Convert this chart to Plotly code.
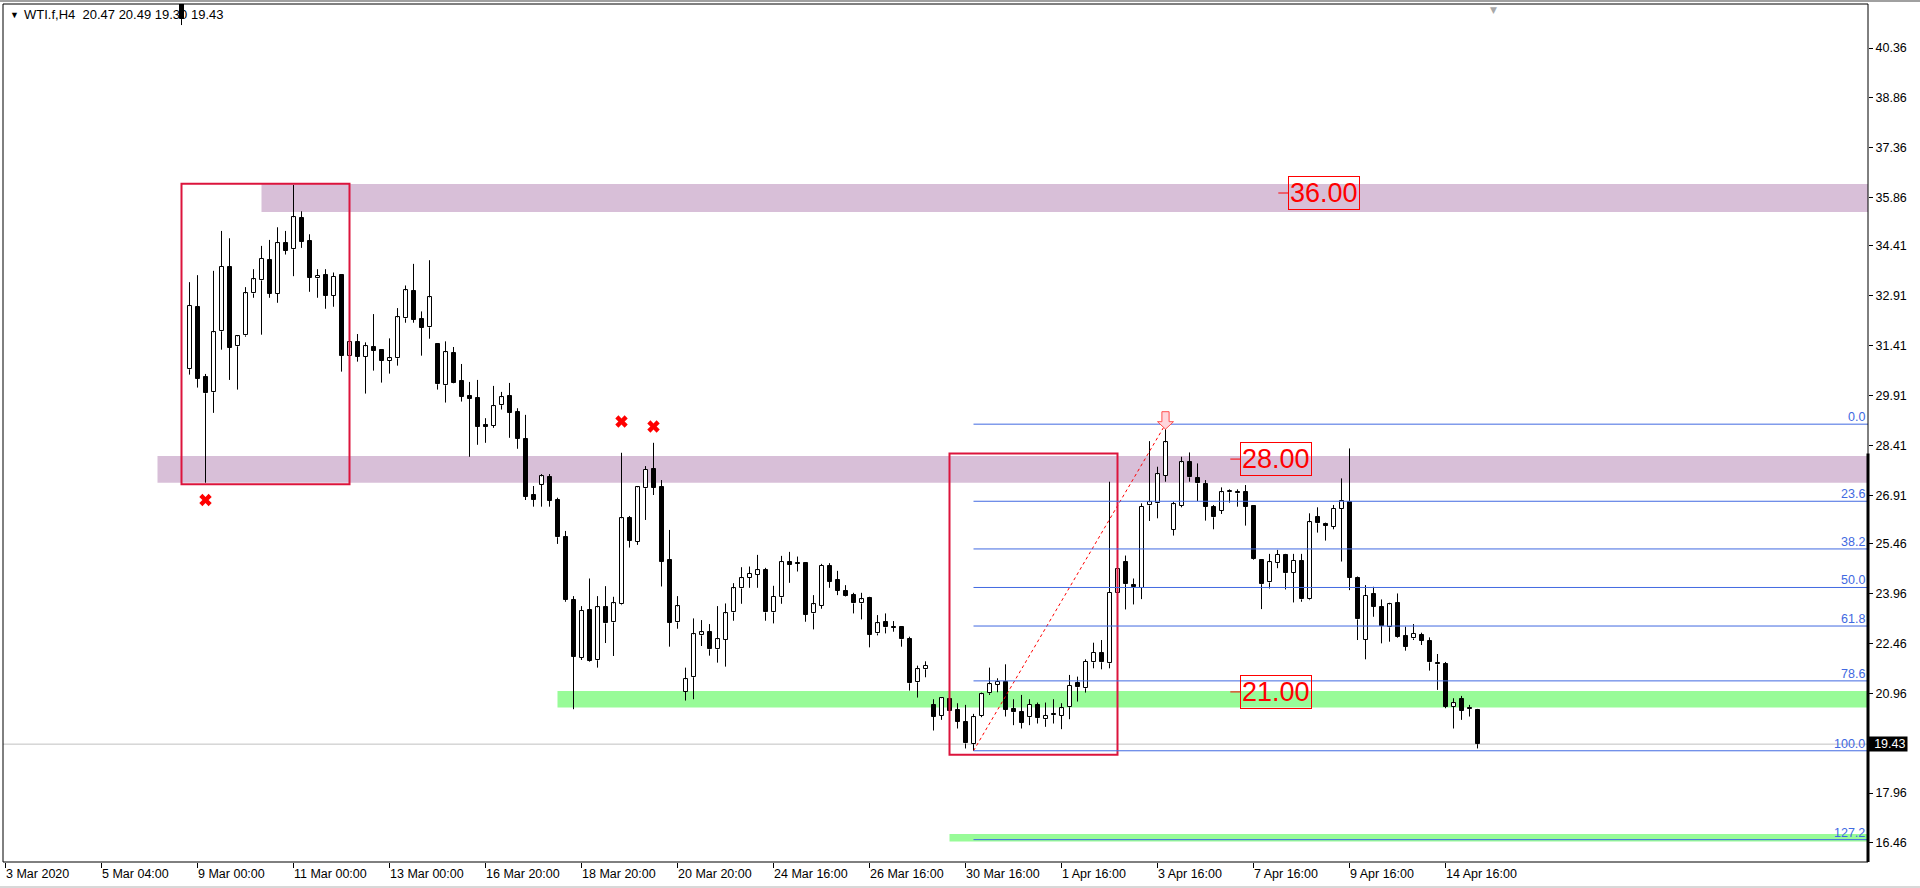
import plotly.graph_objects as go

# ---------------- data ----------------
bar_index = list(range(22, 185))
opens = [41.90, 30.70, 32.57, 30.46, 30.01, 31.84, 33.79, 31.39, 31.72, 32.98,
         33.37, 34.00, 32.97, 34.49, 34.31, 35.24, 34.56, 33.43, 33.55, 32.91,
         33.53, 31.11, 31.51, 31.08, 31.37, 31.27, 30.96, 31.03, 32.23, 33.04,
         32.20, 31.96, 31.46, 30.22, 31.19, 30.35, 29.90, 29.84, 29.02, 29.00,
         29.62, 29.89, 29.43, 28.59, 26.92, 27.23, 27.45, 26.77, 25.66, 23.76,
         22.03, 23.46, 21.95, 23.55, 23.09, 23.63, 26.23, 25.52, 27.12, 27.69,
         27.16, 24.97, 23.09, 21.01, 21.44, 22.70, 22.79, 22.28, 22.56, 23.39,
         24.11, 24.44, 24.53, 24.67, 23.39, 23.84, 24.91, 24.88, 24.88, 23.36,
         23.59, 24.79, 24.37, 24.03, 23.90, 23.66, 23.82, 22.76, 23.10, 22.93,
         22.94, 22.58, 21.29, 21.68, 20.61, 20.28, 20.78, 20.46, 20.11, 19.43,
         20.28, 20.96, 21.21, 21.29, 20.48, 20.41, 20.24, 20.61, 20.18, 20.30,
         20.28, 20.54, 21.26, 21.11, 21.89, 22.18, 21.86, 23.96, 24.90, 24.21,
         24.13, 26.61, 26.67, 27.50, 25.87, 26.60, 27.90, 27.42, 27.25, 26.55,
         26.44, 27.00, 27.02, 27.02, 26.59, 24.98, 24.29, 24.87, 25.12, 24.59,
         24.94, 23.78, 26.25, 26.05, 25.97, 26.50, 26.72, 24.42, 22.56, 23.93,
         23.56, 22.94, 23.66, 22.68, 22.61, 22.71, 22.53, 21.88, 21.84, 20.56,
         20.79, 20.49, 20.47]
highs = [42.10, 33.32, 33.53, 30.56, 33.66, 34.86, 34.64, 31.71, 33.17, 33.71,
         34.41, 34.59, 34.97, 34.86, 36.24, 35.45, 34.76, 33.71, 33.71, 33.61,
         33.55, 31.53, 31.76, 31.51, 32.36, 31.29, 31.63, 32.54, 33.22, 33.87,
         32.44, 33.98, 31.48, 31.54, 31.37, 30.86, 30.32, 30.38, 29.23, 30.20,
         30.02, 30.29, 29.53, 29.33, 27.19, 27.55, 27.55, 26.84, 25.84, 23.88,
         23.58, 24.41, 23.88, 24.18, 23.86, 28.19, 26.29, 27.17, 27.79, 28.49,
         27.37, 25.87, 23.88, 21.73, 23.21, 23.16, 23.04, 23.58, 23.66, 24.27,
         24.75, 24.77, 25.12, 24.73, 24.19, 25.09, 25.21, 25.07, 24.90, 23.91,
         24.85, 24.87, 24.64, 24.21, 23.98, 23.98, 23.86, 23.31, 23.36, 23.13,
         22.96, 22.66, 21.79, 21.92, 20.78, 20.83, 20.80, 20.66, 20.61, 20.34,
         20.98, 21.73, 21.41, 21.83, 20.78, 20.91, 20.78, 20.68, 20.68, 20.78,
         20.66, 21.51, 21.46, 21.98, 22.48, 22.56, 27.32, 24.69, 25.10, 24.41,
         26.67, 28.54, 27.77, 29.05, 26.72, 28.07, 28.20, 27.87, 27.37, 26.62,
         27.15, 27.09, 27.09, 27.22, 26.59, 24.98, 25.15, 25.27, 25.15, 25.15,
         25.15, 26.37, 26.55, 26.09, 26.62, 27.42, 28.32, 24.47, 24.21, 24.16,
         23.78, 23.68, 23.96, 22.96, 23.04, 22.78, 22.64, 22.14, 21.90, 20.81,
         20.88, 20.61, 20.49]
lows = [41.05, 30.54, 30.15, 27.29, 29.39, 31.29, 30.38, 30.09, 31.68, 32.85,
        31.74, 32.85, 32.70, 34.15, 33.50, 34.35, 33.03, 32.85, 32.52, 32.58,
        30.63, 31.09, 30.93, 29.97, 30.66, 30.30, 30.57, 30.81, 32.10, 32.10,
        31.11, 31.62, 30.09, 29.70, 30.28, 29.73, 28.07, 28.43, 28.49, 28.94,
        29.49, 28.64, 28.31, 26.77, 26.57, 26.57, 26.57, 25.45, 23.71, 20.48,
        21.96, 21.91, 21.73, 22.47, 22.08, 23.61, 25.34, 25.42, 26.17, 26.92,
        24.17, 22.36, 22.90, 20.74, 20.78, 22.38, 22.09, 21.88, 21.76, 23.14,
        23.65, 24.13, 24.13, 23.14, 23.06, 23.65, 24.28, 24.62, 23.11, 22.88,
        23.50, 24.13, 23.91, 23.87, 23.36, 23.18, 22.34, 22.70, 22.76, 22.81,
        22.36, 21.04, 20.83, 21.44, 19.84, 20.16, 20.40, 19.90, 19.30, 19.23,
        20.24, 20.91, 20.99, 20.26, 20.00, 19.90, 20.00, 20.05, 19.95, 20.05,
        19.88, 20.18, 20.71, 20.98, 21.71, 21.68, 21.71, 23.94, 23.48, 23.63,
        23.79, 26.14, 26.22, 27.32, 25.70, 26.55, 27.32, 26.74, 26.15, 25.89,
        26.35, 26.69, 26.57, 26.00, 24.97, 23.49, 24.11, 24.72, 24.08, 23.69,
        23.71, 23.76, 25.79, 25.55, 25.89, 24.92, 24.06, 22.56, 21.98, 23.26,
        22.46, 22.51, 22.63, 22.24, 22.56, 22.41, 21.64, 21.06, 20.51, 19.90,
        20.16, 20.26, 19.30]
closes = [41.23, 32.60, 30.42, 29.98, 31.81, 33.79, 31.35, 31.69, 32.98, 33.40,
          34.03, 32.97, 34.49, 34.27, 35.27, 34.54, 33.45, 33.52, 32.91, 33.49,
          31.11, 31.51, 31.08, 31.39, 31.26, 30.96, 31.03, 32.26, 33.07, 32.19,
          31.95, 32.86, 30.25, 31.21, 30.30, 29.88, 29.82, 28.98, 28.97, 29.59,
          29.86, 29.40, 28.61, 26.87, 26.77, 27.48, 26.75, 25.65, 23.76, 22.06,
          23.43, 21.93, 23.54, 23.06, 23.66, 26.22, 25.55, 27.15, 27.68, 27.14,
          24.91, 23.08, 23.57, 21.38, 22.73, 22.79, 22.28, 22.58, 23.36, 24.11,
          24.42, 24.56, 24.66, 23.39, 23.86, 24.90, 24.83, 24.86, 23.32, 23.63,
          24.79, 24.31, 24.04, 23.89, 23.66, 23.78, 22.72, 23.06, 22.94, 22.93,
          22.58, 21.26, 21.68, 21.79, 20.26, 20.81, 20.44, 20.11, 19.45, 20.24,
          20.93, 21.23, 21.31, 20.46, 20.39, 20.08, 20.61, 20.21, 20.28, 20.30,
          20.51, 21.18, 21.14, 21.91, 22.18, 21.89, 23.98, 24.69, 24.24, 24.15,
          26.57, 26.70, 27.54, 28.50, 26.64, 27.90, 27.45, 27.27, 26.57, 26.25,
          27.00, 27.02, 26.97, 26.57, 24.99, 24.24, 24.90, 25.12, 24.57, 24.94,
          23.78, 26.10, 26.07, 26.00, 26.50, 26.74, 24.44, 23.18, 23.89, 23.56,
          22.98, 23.63, 22.66, 22.36, 22.74, 22.54, 21.89, 21.83, 20.56, 20.66,
          20.44, 20.49, 19.43]

x_tick_index = [0, 12, 24, 36, 48, 60, 72, 84, 96, 108, 120, 132, 144, 156, 168, 180]
x_tick_labels = ["3 Mar 2020", "5 Mar 04:00", "9 Mar 00:00", "11 Mar 00:00",
                 "13 Mar 00:00", "16 Mar 20:00", "18 Mar 20:00", "20 Mar 20:00",
                 "24 Mar 16:00", "26 Mar 16:00", "30 Mar 16:00", "1 Apr 16:00",
                 "3 Apr 16:00", "7 Apr 16:00", "9 Apr 16:00", "14 Apr 16:00"]
y_tick_values = [40.36, 38.86, 37.36, 35.86, 34.41, 32.91, 31.41, 29.91, 28.41,
                 26.91, 25.46, 23.96, 22.46, 20.96, 17.96, 16.46]
y_tick_labels = [f"{v:.2f}" for v in y_tick_values]

header_text = "WTI.f,H4&nbsp; 20.47 20.49 19.30 19.43"
last_price = 19.43

# analysis objects
zone_purple_hi = (32, 35.43, 36.27)      # start bar, bottom, top
zone_purple_lo = (19, 27.29, 28.09)
zone_green_hi = (69, 20.53, 21.03)
zone_green_lo = (118, 16.50, 16.73)
rect_a = (22, 43, 27.24, 36.28)           # bar0, bar1, low, high
rect_b = (118, 139, 19.11, 28.17)
fib_low_bar, fib_low = 121, 19.23
fib_high_bar, fib_high = 145, 29.05
fib_levels = [0.0, 23.6, 38.2, 50.0, 61.8, 78.6, 100.0, 127.2]
cross_bars = [25, 77, 81]
cross_prices = [26.77, 29.13, 28.98]
price_labels = [36.00, 28.00, 21.00]
price_label_bars = [159.1, 153.1, 153.1]
shift_marker_bar = 186

# ---------------- layout geometry ----------------
W, H = 1920, 888
ML, MR, MT, MB = 3, 52, 4, 26
x_range = [(3 - 5.5) / 8, (1868 - 5.5) / 8]
y_range = [40.36 - 814 / 33.26, 40.36 + 44 / 33.26]
xmax = x_range[1]

FONT = "Liberation Sans, Arial, sans-serif"
RED = "#FF0000"
CRIMSON = "#DC143C"
BLUE = "#4169E1"
THISTLE = "#D8BFD8"
GREEN = "#98FB98"

fig = go.Figure()

# wicks (split so they do not cross bodies)
wx, wy = [], []
for k, o, h, l, c in zip(bar_index, opens, highs, lows, closes):
    top, bot = max(o, c), min(o, c)
    if h > top:
        wx += [k, k, None]
        wy += [top, h, None]
    if l < bot:
        wx += [k, k, None]
        wy += [bot, l, None]
fig.add_trace(go.Scatter(x=wx, y=wy, mode="lines", line=dict(color="black", width=1),
                         hoverinfo="skip", showlegend=False))

# bodies
base = [min(o, c) for o, c in zip(opens, closes)]
height = [max(abs(c - o), 0.03) for o, c in zip(opens, closes)]
colors = ["white" if c > o else "black" for o, c in zip(opens, closes)]
fig.add_trace(go.Bar(x=bar_index, y=height, base=base, width=0.5,
                     marker=dict(color=colors, line=dict(color="black", width=1)),
                     hoverinfo="skip", showlegend=False))

# fib trend line (dotted)
fig.add_trace(go.Scatter(x=[fib_low_bar, fib_high_bar], y=[fib_low, fib_high], mode="lines",
                         line=dict(color=RED, width=1, dash="dot"),
                         hoverinfo="skip", showlegend=False))

# red crosses
fig.add_trace(go.Scatter(x=cross_bars, y=cross_prices, mode="markers",
                         marker=dict(symbol="x", size=11, color=RED, line=dict(width=0)),
                         hoverinfo="skip", showlegend=False))

shapes = []
# zones (background)
for (k0, lo, hi), col in [(zone_purple_hi, THISTLE), (zone_purple_lo, THISTLE),
                          (zone_green_hi, GREEN), (zone_green_lo, GREEN)]:
    shapes.append(dict(type="rect", xref="x", yref="y", x0=k0, x1=xmax, y0=lo, y1=hi,
                       fillcolor=col, line=dict(width=0), layer="below"))
# bid line
shapes.append(dict(type="line", xref="paper", yref="y", x0=0, x1=1, y0=last_price, y1=last_price,
                   line=dict(color="#C0C0C0", width=1), layer="below"))
# red rectangles
for k0, k1, lo, hi in [rect_a, rect_b]:
    shapes.append(dict(type="rect", xref="x", yref="y", x0=k0, x1=k1, y0=lo, y1=hi,
                       line=dict(color=CRIMSON, width=2), fillcolor="rgba(0,0,0,0)", layer="above"))
# fib levels
rng = fib_high - fib_low
for lv in fib_levels:
    p = fib_high - lv / 100.0 * rng
    shapes.append(dict(type="line", xref="x", yref="y", x0=fib_low_bar, x1=xmax, y0=p, y1=p,
                       line=dict(color=BLUE, width=1), layer="above"))
# price label dashes
for p, kb in zip(price_labels, price_label_bars):
    shapes.append(dict(type="line", xref="x", yref="y", x0=kb, x1=kb + 1.25, y0=p, y1=p,
                       line=dict(color=RED, width=1), layer="above"))
# arrow at fib high
hk, hp = fib_high_bar, fib_high
pts = [(hk - 0.45, hp + 0.375), (hk + 0.45, hp + 0.375), (hk + 0.45, hp + 0.075),
       (hk + 1.0, hp + 0.075), (hk, hp - 0.15), (hk - 1.0, hp + 0.075), (hk - 0.45, hp + 0.075)]
path = "M " + " L ".join(f"{a},{b}" for a, b in pts) + " Z"
shapes.append(dict(type="path", xref="x", yref="y", path=path, fillcolor="#FFD6DC",
                   line=dict(color="#FF5050", width=1), layer="above"))
# frame
shapes.append(dict(type="rect", xref="paper", yref="paper", x0=0, x1=1, y0=0, y1=1,
                   line=dict(color="black", width=1), layer="above"))
shapes.append(dict(type="line", xref="paper", yref="y", x0=1, x1=1, y0=rect_b[3], y1=y_range[0],
                   line=dict(color="black", width=3), layer="above"))
# window edges
pw = W - ML - MR
ph = H - MT - MB
shapes.append(dict(type="line", xref="paper", yref="paper", x0=-ML / pw, x1=(W - ML) / pw,
                   y0=1 + (MT - 1) / ph, y1=1 + (MT - 1) / ph, line=dict(color="#A0A0A0", width=2)))
shapes.append(dict(type="line", xref="paper", yref="paper", x0=-ML / pw, x1=(W - ML) / pw,
                   y0=-(MB - 1) / ph, y1=-(MB - 1) / ph, line=dict(color="#D8D8D8", width=2)))

annotations = []
# header
annotations.append(dict(xref="paper", yref="paper", x=(8 - ML) / pw, y=1 - (15 - MT) / ph,
                        xanchor="left", yanchor="middle", showarrow=False,
                        text="▼", font=dict(family=FONT, size=9, color="black")))
annotations.append(dict(xref="paper", yref="paper", x=(22 - ML) / pw, y=1 - (15 - MT) / ph,
                        xanchor="left", yanchor="middle", showarrow=False,
                        text=header_text, font=dict(family=FONT, size=13, color="black")))
# price labels in boxes
for p, kb in zip(price_labels, price_label_bars):
    annotations.append(dict(xref="x", yref="y", x=kb + 1.25, y=p, xanchor="left", yanchor="middle",
                            showarrow=False, text=f"{p:.2f}",
                            font=dict(family=FONT, size=27, color=RED),
                            bordercolor=RED, borderwidth=1, borderpad=1))
# fib level labels
for lv in fib_levels:
    p = fib_high - lv / 100.0 * rng
    annotations.append(dict(xref="paper", yref="y", x=1, y=p, xanchor="right", yanchor="bottom",
                            xshift=-1, yshift=-2, showarrow=False, text=f"{lv:.1f}",
                            font=dict(family=FONT, size=12.5, color=BLUE)))
# current price label
annotations.append(dict(xref="paper", yref="y", x=1, y=last_price, xanchor="left", yanchor="middle",
                        showarrow=False, text=f"{last_price:.2f}", bgcolor="black",
                        font=dict(family=FONT, size=12.5, color="white"),
                        width=35, height=11, align="right", borderpad=1.5))
# chart shift marker
annotations.append(dict(xref="x", yref="paper", x=shift_marker_bar, y=1, xanchor="center",
                        yanchor="top", yshift=1, showarrow=False, text="▼",
                        font=dict(family="DejaVu Sans", size=9, color="#A8A8A8")))

fig.update_layout(
    width=W, height=H, autosize=False,
    margin=dict(l=ML, r=MR, t=MT, b=MB, pad=0),
    paper_bgcolor="white", plot_bgcolor="white",
    showlegend=False, hovermode=False, bargap=0,
    shapes=shapes, annotations=annotations,
    xaxis=dict(range=x_range, showgrid=False, zeroline=False, showline=False,
               tickmode="array", tickvals=x_tick_index, ticktext=x_tick_labels,
               ticks="outside", ticklen=5, tickcolor="black", tickwidth=1,
               ticklabelposition="outside right",
               tickfont=dict(family=FONT, size=12.5, color="black"), fixedrange=True),
    yaxis=dict(range=y_range, side="right", showgrid=False, zeroline=False, showline=False,
               tickmode="array", tickvals=y_tick_values, ticktext=y_tick_labels,
               ticks="outside", ticklen=4, tickcolor="black", tickwidth=1,
               tickfont=dict(family=FONT, size=12.5, color="black"), fixedrange=True),
)

fig.write_html(
    "out.html",
    config={"displayModeBar": False},
    post_script="document.body.style.margin='0';document.body.style.overflow='hidden';",
)
